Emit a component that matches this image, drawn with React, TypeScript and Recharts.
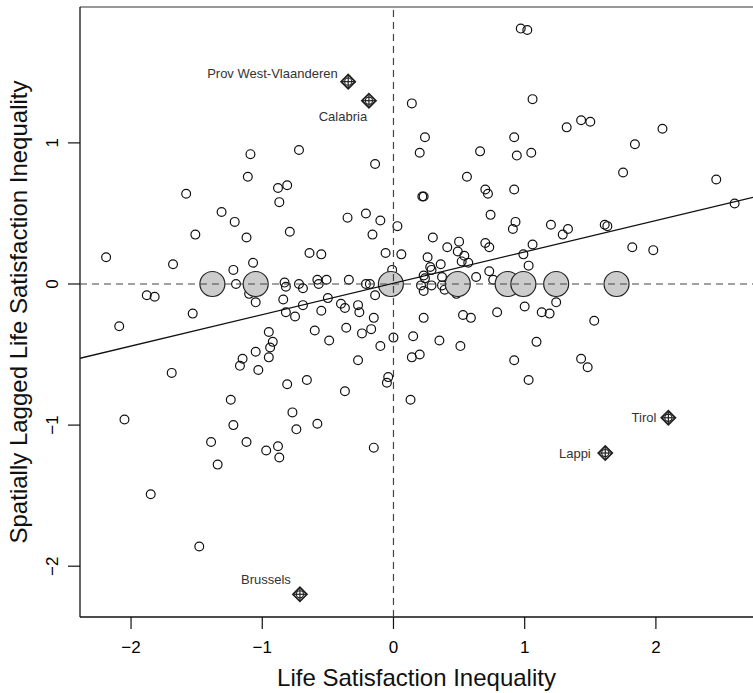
import { ScatterChart, Scatter, XAxis, YAxis, ReferenceLine } from "recharts";

// [life satisfaction inequality, spatially lagged life satisfaction inequality]
const regions: [number, number][] = [
  [-2.19, 0.19], [-1.68, 0.14], [-1.58, 0.64], [-1.51, 0.35], [-1.31, 0.51], [-1.21, 0.44],
  [-1.12, 0.33], [-1.11, 0.76], [-1.09, 0.92], [-1.22, 0.1], [-1.07, 0.15], [-1.2, 0.0],
  [-1.88, -0.08], [-1.82, -0.09], [-1.53, -0.21], [-1.1, -0.07], [-1.05, -0.13],
  [-0.88, 0.68], [-0.81, 0.7], [-0.87, 0.58], [-0.79, 0.37], [-0.72, 0.95], [-0.64, 0.22],
  [-0.55, 0.21], [-0.83, 0.01], [-0.82, -0.02], [-0.72, 0.0], [-0.69, -0.03], [-0.58, 0.03],
  [-0.57, 0.0], [-0.51, 0.03], [-0.34, 0.03], [-0.21, 0.0], [-0.18, 0.0],
  [-0.84, -0.11], [-0.82, -0.2], [-0.75, -0.23], [-0.69, -0.15], [-0.55, -0.19], [-0.5, -0.1],
  [-0.4, -0.14], [-0.37, -0.17], [-0.27, -0.15], [-0.26, -0.2], [-0.14, -0.08], [-0.15, -0.24],
  [-0.35, 0.47], [-0.21, 0.5], [-0.16, 0.35], [-0.14, 0.85], [-0.1, 0.45], [0.14, 1.28],
  [0.03, 0.41], [-0.06, 0.22], [0.06, 0.21], [-0.01, 0.1],
  [0.97, 1.81], [1.02, 1.8], [1.06, 1.31], [0.24, 1.04], [0.2, 0.93], [0.66, 0.94],
  [0.92, 1.04], [0.94, 0.91], [1.05, 0.93], [1.32, 1.11], [1.43, 1.16], [1.5, 1.15],
  [1.84, 0.99], [2.05, 1.1], [1.75, 0.79], [2.46, 0.74], [2.6, 0.57],
  [0.56, 0.76], [0.22, 0.62], [0.23, 0.62], [0.7, 0.67], [0.72, 0.64], [0.92, 0.67],
  [0.74, 0.49], [0.93, 0.44], [0.91, 0.39], [1.2, 0.42], [1.33, 0.39], [1.29, 0.35],
  [1.61, 0.42], [1.63, 0.41],
  [0.3, 0.33], [0.5, 0.3], [0.41, 0.26], [0.7, 0.29], [0.73, 0.26], [1.06, 0.28],
  [0.26, 0.19], [0.49, 0.23], [0.54, 0.2], [0.52, 0.16], [0.57, 0.15], [0.36, 0.14],
  [0.28, 0.12], [0.29, 0.1], [0.99, 0.21], [1.03, 0.13], [1.82, 0.26], [1.98, 0.24],
  [0.23, 0.06], [0.24, 0.04], [0.37, 0.05], [0.63, 0.05], [0.73, 0.09], [0.76, 0.03],
  [0.21, -0.01], [0.23, -0.05], [0.29, -0.01], [0.37, -0.01], [0.39, -0.04], [0.48, -0.07],
  [1.0, -0.16], [1.13, -0.2], [1.19, -0.21], [1.24, -0.13], [0.79, -0.2], [0.53, -0.22],
  [0.59, -0.24], [0.23, -0.24], [1.53, -0.26],
  [-2.09, -0.3], [-1.69, -0.63], [-2.05, -0.96], [-1.85, -1.49], [-1.48, -1.86],
  [-0.95, -0.34], [-0.92, -0.41], [-0.94, -0.45], [-1.05, -0.48], [-0.95, -0.52], [-1.15, -0.53],
  [-1.17, -0.58], [-1.03, -0.61], [-1.24, -0.82], [-1.22, -1.0], [-1.39, -1.12], [-1.34, -1.28],
  [-1.12, -1.12], [-0.97, -1.18], [-0.88, -1.15], [-0.87, -1.23], [-0.77, -0.91], [-0.74, -1.03],
  [-0.81, -0.71], [-0.66, -0.68], [-0.58, -0.99], [-0.37, -0.76], [-0.15, -1.16],
  [-0.6, -0.33], [-0.49, -0.4], [-0.36, -0.31], [-0.24, -0.35], [-0.17, -0.32], [-0.27, -0.54],
  [-0.1, -0.44], [0.0, -0.38], [0.15, -0.37], [0.14, -0.52], [0.2, -0.5], [-0.04, -0.66],
  [-0.05, -0.7], [0.13, -0.82], [0.35, -0.4], [0.51, -0.44], [1.09, -0.41], [0.92, -0.54],
  [1.03, -0.68], [1.43, -0.53], [1.48, -0.59],
];

// regions whose lagged value is exactly 0 (grey discs)
const zeroLagX = [-1.38, -1.05, -0.02, 0.49, 0.87, 0.99, 1.24, 1.7];

const outlierNames = ["Prov West-Vlaanderen", "Calabria", "Brussels", "Tirol", "Lappi"];
const outlierX = [-0.345, -0.187, -0.713, 2.095, 1.614];
const outlierY = [1.434, 1.299, -2.199, -0.948, -1.198];

const xTicks = [-2, -1, 0, 1, 2];
const yTicks = [-2, -1, 0, 1];

// least squares fit
const fitIntercept = 0.005;
const fitSlope = 0.2225;

const X_MIN = -2.389;
const X_MAX = 2.74;
const Y_MIN = -2.36;
const Y_MAX = 1.963;

const W = 753;
const H = 693;
const LEFT = 80;
const TOP = 7;
const XAXIS_H = 76;
const FONT = "'Liberation Sans', Arial, Helvetica, sans-serif";

const labelPlace: Record<string, { dx: number; dy: number; anchor: "start" | "middle" | "end" }> = {
  "Prov West-Vlaanderen": { dx: -10.5, dy: -8.5, anchor: "end" },
  Calabria: { dx: -26, dy: 16, anchor: "middle" },
  Brussels: { dx: -34, dy: -15, anchor: "middle" },
  Tirol: { dx: -12, dy: 0, anchor: "end" },
  Lappi: { dx: -14.5, dy: 0, anchor: "end" },
};

const pointData = regions.map(([x, y]) => ({ x, y }));
const zeroData = zeroLagX.map((x) => ({ x, y: 0 }));
const outlierData = outlierNames.map((name, i) => ({ name, x: outlierX[i], y: outlierY[i] }));
const fitData = [X_MIN, X_MAX].map((x) => ({ x, y: fitIntercept + fitSlope * x }));
const hZero = [{ x: X_MIN, y: 0 }, { x: X_MAX, y: 0 }];
const vZero = [{ x: 0, y: Y_MIN }, { x: 0, y: Y_MAX }];

const fmt = (v: number) => (v < 0 ? "\u2212" + Math.abs(v) : String(v));

const XTick = ({ x, y, payload }: any) => (
  <text x={x} y={y + 22} textAnchor="middle" fontSize={17} fill="#000" fontFamily={FONT}>
    {fmt(payload.value)}
  </text>
);

const YTick = ({ x, y, payload }: any) => {
  const bx = x - 8;
  return (
    <text x={bx} y={y} transform={`rotate(-90 ${bx} ${y})`} textAnchor="middle" fontSize={17} fill="#000" fontFamily={FONT}>
      {fmt(payload.value)}
    </text>
  );
};

const OpenCircle = (p: any) => <circle cx={p.cx} cy={p.cy} r={4.4} fill="none" stroke="#111" strokeWidth={1.2} />;
const GreyDisc = (p: any) => <circle cx={p.cx} cy={p.cy} r={12.5} fill="#cccccc" stroke="#222" strokeWidth={1.2} />;

const Outlier = (p: any) => {
  const { cx, cy } = p;
  const name = p.payload?.name ?? "";
  const pl = labelPlace[name] ?? { dx: -10, dy: 0, anchor: "end" };
  const s = 7;
  return (
    <g>
      <path d={`M${cx - s},${cy} L${cx},${cy - s} L${cx + s},${cy} L${cx},${cy + s} Z`} fill="none" stroke="#222" strokeWidth={1.8} />
      <line x1={cx - s} y1={cy} x2={cx + s} y2={cy} stroke="#222" strokeWidth={1.2} />
      <line x1={cx} y1={cy - s} x2={cx} y2={cy + s} stroke="#222" strokeWidth={1.2} />
      <circle cx={cx} cy={cy} r={3.6} fill="none" stroke="#222" strokeWidth={1.1} />
      <text x={cx + pl.dx} y={cy + pl.dy} dy="0.35em" textAnchor={pl.anchor} fontSize={13} fill="#333" fontFamily={FONT}>
        {name}
      </text>
    </g>
  );
};

const NoDot = () => <g />;

export default function App() {
  return (
    <div style={{ position: "absolute", left: 0, top: 0, width: W, height: H, overflow: "hidden", background: "#fff" }}>
      <ScatterChart width={W} height={H} margin={{ top: TOP, right: 0, bottom: 0, left: 0 }}>
        <XAxis
          type="number"
          dataKey="x"
          domain={[X_MIN, X_MAX]}
          ticks={xTicks}
          allowDataOverflow
          height={XAXIS_H}
          tickSize={12}
          tick={<XTick />}
          stroke="#111"
          axisLine={{ stroke: "#111", strokeWidth: 1.3 }}
          tickLine={{ stroke: "#111", strokeWidth: 1.2 }}
          label={() => (
            <text x={(LEFT + W) / 2} y={686} textAnchor="middle" fontSize={24} fill="#111" fontFamily={FONT}>
              Life Satisfaction Inequality
            </text>
          )}
        />
        <YAxis
          type="number"
          dataKey="y"
          domain={[Y_MIN, Y_MAX]}
          ticks={yTicks}
          allowDataOverflow
          width={LEFT}
          tickSize={12}
          tick={<YTick />}
          stroke="#111"
          axisLine={{ stroke: "#111", strokeWidth: 1.3 }}
          tickLine={{ stroke: "#111", strokeWidth: 1.2 }}
          label={() => {
            const cx = 27;
            const cy = (TOP + H - XAXIS_H) / 2;
            return (
              <text x={cx} y={cy} transform={`rotate(-90 ${cx} ${cy})`} textAnchor="middle" fontSize={24} fill="#111" fontFamily={FONT}>
                Spatially Lagged Life Satisfaction Inequality
              </text>
            );
          }}
        />
        <ReferenceLine y={Y_MAX} stroke="#333" strokeWidth={1.2} />
        <Scatter data={pointData} shape={OpenCircle} isAnimationActive={false} />
        <Scatter data={zeroData} shape={GreyDisc} isAnimationActive={false} />
        <Scatter data={outlierData} shape={Outlier} isAnimationActive={false} />
        <Scatter data={hZero} shape={NoDot} line={{ stroke: "#444", strokeWidth: 1.2, strokeDasharray: "7 5" }} isAnimationActive={false} />
        <Scatter data={vZero} shape={NoDot} line={{ stroke: "#444", strokeWidth: 1.2, strokeDasharray: "7 5" }} isAnimationActive={false} />
        <Scatter data={fitData} shape={NoDot} line={{ stroke: "#111", strokeWidth: 1.3 }} isAnimationActive={false} />
      </ScatterChart>
    </div>
  );
}
